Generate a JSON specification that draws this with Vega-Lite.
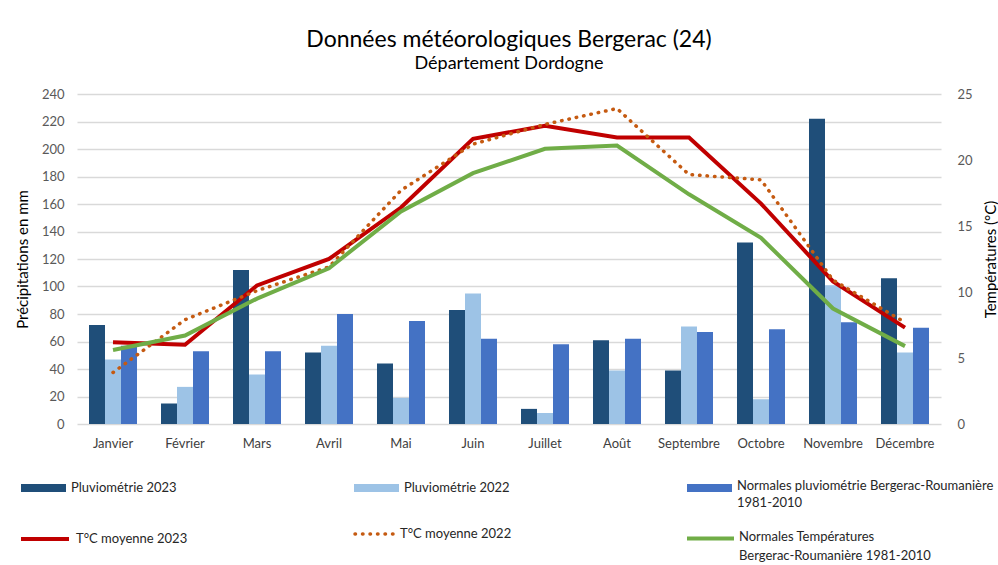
{
  "$schema": "https://vega.github.io/schema/vega-lite/v6.json",
  "width": 864,
  "height": 330,
  "autosize": {"type": "none"},
  "padding": {"left": 77, "top": 94, "right": 57, "bottom": 141},
  "background": "white",
  "config": {
    "font": "Lato",
    "view": {"stroke": null},
    "axis": {"labelFont": "Lato", "titleFont": "Lato", "labelFontSize": 13, "labelColor": "#595959", "titleFontWeight": "normal", "titleColor": "#000000", "titleFontSize": 15, "ticks": false, "domain": false},
    "legend": {"labelFont": "Lato", "labelFontSize": 13, "labelColor": "#262626", "title": null, "padding": 0, "labelLimit": 600, "labelOffset": 5}
  },
  "title": {
    "text": "Données météorologiques Bergerac (24)",
    "subtitle": "Département Dordogne",
    "font": "Lato",
    "fontSize": 23,
    "fontWeight": "normal",
    "color": "#000000",
    "subtitleFont": "Lato",
    "subtitleFontSize": 18,
    "subtitleColor": "#000000",
    "subtitlePadding": 3,
    "anchor": "middle",
    "offset": 15
  },
  "data": {
    "values": [
      {"mois": "Janvier", "pluie_2023": 72, "pluie_2022": 47, "pluie_normale": 57, "temp_2023": 6.2, "temp_2022": 3.9, "temp_normale": 5.6},
      {"mois": "Février", "pluie_2023": 15, "pluie_2022": 27, "pluie_normale": 53, "temp_2023": 6.0, "temp_2022": 7.9, "temp_normale": 6.7},
      {"mois": "Mars", "pluie_2023": 112, "pluie_2022": 36, "pluie_normale": 53, "temp_2023": 10.5, "temp_2022": 10.1, "temp_normale": 9.5},
      {"mois": "Avril", "pluie_2023": 52, "pluie_2022": 57, "pluie_normale": 80, "temp_2023": 12.5, "temp_2022": 11.9, "temp_normale": 11.8},
      {"mois": "Mai", "pluie_2023": 44, "pluie_2022": 19, "pluie_normale": 75, "temp_2023": 16.4, "temp_2022": 17.7, "temp_normale": 16.1},
      {"mois": "Juin", "pluie_2023": 83, "pluie_2022": 95, "pluie_normale": 62, "temp_2023": 21.6, "temp_2022": 21.2, "temp_normale": 19.0},
      {"mois": "Juillet", "pluie_2023": 11, "pluie_2022": 8, "pluie_normale": 58, "temp_2023": 22.6, "temp_2022": 22.7, "temp_normale": 20.85},
      {"mois": "Août", "pluie_2023": 61, "pluie_2022": 39, "pluie_normale": 62, "temp_2023": 21.7, "temp_2022": 23.9, "temp_normale": 21.1},
      {"mois": "Septembre", "pluie_2023": 39, "pluie_2022": 71, "pluie_normale": 67, "temp_2023": 21.7, "temp_2022": 18.9, "temp_normale": 17.4},
      {"mois": "Octobre", "pluie_2023": 132, "pluie_2022": 18, "pluie_normale": 69, "temp_2023": 16.7, "temp_2022": 18.5, "temp_normale": 14.1},
      {"mois": "Novembre", "pluie_2023": 222, "pluie_2022": 101, "pluie_normale": 74, "temp_2023": 10.8, "temp_2022": 10.9, "temp_normale": 8.75},
      {"mois": "Décembre", "pluie_2023": 106, "pluie_2022": 52, "pluie_normale": 70, "temp_2023": 7.3, "temp_2022": 7.7, "temp_normale": 5.9}
    ]
  },
  "layer": [
    {
      "layer": [
        {
          "mark": {"type": "bar"},
          "encoding": {
            "x": {"field": "mois", "type": "nominal", "sort": null, "scale": {"paddingInner": 0.3333, "paddingOuter": 0.1667}, "axis": {"title": null, "labelAngle": 0, "labelColor": "#404040", "labelPadding": 13, "labelFontSize": 13}},
            "xOffset": {"datum": "Pluviométrie 2023", "type": "nominal", "scale": {"domain": ["Pluviométrie 2023", "Pluviométrie 2022", "Normales pluviométrie Bergerac-Roumanière 1981-2010"]}},
            "y": {"field": "pluie_2023", "type": "quantitative", "scale": {"domain": [0, 240]}, "axis": {"title": "Précipitations en mm", "values": [0, 20, 40, 60, 80, 100, 120, 140, 160, 180, 200, 220, 240], "grid": true, "gridColor": "#d9d9d9", "gridWidth": 1.3, "labelPadding": 13, "titlePadding": 11}},
            "color": {"datum": "Pluviométrie 2023", "type": "nominal", "scale": {"domain": ["Pluviométrie 2023"], "range": ["#1F4E79"]}, "legend": {"orient": "none", "legendX": -56, "legendY": 371.5, "symbolType": "M-1,-0.18H1V0.18H-1Z", "symbolSize": 2025, "symbolStrokeWidth": 0}}
          }
        },
        {
          "mark": {"type": "bar"},
          "encoding": {
            "x": {"field": "mois", "type": "nominal", "sort": null},
            "xOffset": {"datum": "Pluviométrie 2022", "type": "nominal", "scale": {"domain": ["Pluviométrie 2023", "Pluviométrie 2022", "Normales pluviométrie Bergerac-Roumanière 1981-2010"]}},
            "y": {"field": "pluie_2022", "type": "quantitative", "scale": {"domain": [0, 240]}, "axis": {"title": "Précipitations en mm", "values": [0, 20, 40, 60, 80, 100, 120, 140, 160, 180, 200, 220, 240], "grid": true, "gridColor": "#d9d9d9", "gridWidth": 1.3, "labelPadding": 13, "titlePadding": 11}},
            "color": {"datum": "Pluviométrie 2022", "type": "nominal", "scale": {"domain": ["Pluviométrie 2022"], "range": ["#9DC3E6"]}, "legend": {"orient": "none", "legendX": 277, "legendY": 371.5, "symbolType": "M-1,-0.18H1V0.18H-1Z", "symbolSize": 2025, "symbolStrokeWidth": 0}}
          }
        },
        {
          "mark": {"type": "bar"},
          "encoding": {
            "x": {"field": "mois", "type": "nominal", "sort": null},
            "xOffset": {"datum": "Normales pluviométrie Bergerac-Roumanière 1981-2010", "type": "nominal", "scale": {"domain": ["Pluviométrie 2023", "Pluviométrie 2022", "Normales pluviométrie Bergerac-Roumanière 1981-2010"]}},
            "y": {"field": "pluie_normale", "type": "quantitative", "scale": {"domain": [0, 240]}, "axis": {"title": "Précipitations en mm", "values": [0, 20, 40, 60, 80, 100, 120, 140, 160, 180, 200, 220, 240], "grid": true, "gridColor": "#d9d9d9", "gridWidth": 1.3, "labelPadding": 13, "titlePadding": 11}},
            "color": {"datum": "Normales pluviométrie Bergerac-Roumanière 1981-2010", "type": "nominal", "scale": {"domain": ["Normales pluviométrie Bergerac-Roumanière 1981-2010"], "range": ["#4472C4"]}, "legend": {"orient": "none", "legendX": 610, "legendY": 371.5, "symbolType": "M-1,-0.18H1V0.18H-1Z", "symbolSize": 2025, "symbolStrokeWidth": 0, "labelExpr": "['Normales pluviométrie Bergerac-Roumanière', ' 1981-2010']", "labelBaseline": "top", "encode": {"labels": {"update": {"dy": {"value": -8}, "lineHeight": {"value": 17}}}}}}
          }
        }
      ],
      "resolve": {"scale": {"color": "independent"}}
    },
    {
      "layer": [
        {
          "mark": {"type": "line", "strokeWidth": 4},
          "encoding": {
            "x": {"field": "mois", "type": "nominal", "sort": null},
            "y": {"field": "temp_2023", "type": "quantitative", "scale": {"domain": [0, 25]}, "axis": {"orient": "right", "title": "Températures (°C)", "titleAngle": 270, "values": [0, 5, 10, 15, 20, 25], "grid": false, "labelPadding": 16, "titlePadding": 26}},
            "color": {"datum": "T°C moyenne 2023", "type": "nominal", "scale": {"domain": ["T°C moyenne 2023"], "range": ["#C00000"]}, "legend": {"orient": "none", "legendX": -58, "legendY": 419, "symbolType": "stroke", "symbolSize": 2304, "symbolStrokeWidth": 4}}
          }
        },
        {
          "mark": {"type": "line", "strokeWidth": 3.5, "strokeDash": [0.5, 7], "strokeCap": "round"},
          "encoding": {
            "x": {"field": "mois", "type": "nominal", "sort": null},
            "y": {"field": "temp_2022", "type": "quantitative", "scale": {"domain": [0, 25]}, "axis": {"orient": "right", "title": "Températures (°C)", "titleAngle": 270, "values": [0, 5, 10, 15, 20, 25], "grid": false, "labelPadding": 16, "titlePadding": 26}},
            "color": {"datum": "T°C moyenne 2022", "type": "nominal", "scale": {"domain": ["T°C moyenne 2022"], "range": ["#C55A11"]}, "legend": {"orient": "none", "legendX": 276, "legendY": 419, "symbolType": "stroke", "symbolSize": 1444, "symbolStrokeWidth": 3.5, "symbolDash": [0.5, 7], "encode": {"symbols": {"update": {"strokeCap": {"value": "round"}}}}}}
          }
        },
        {
          "mark": {"type": "line", "strokeWidth": 4},
          "encoding": {
            "x": {"field": "mois", "type": "nominal", "sort": null},
            "y": {"field": "temp_normale", "type": "quantitative", "scale": {"domain": [0, 25]}, "axis": {"orient": "right", "title": "Températures (°C)", "titleAngle": 270, "values": [0, 5, 10, 15, 20, 25], "grid": false, "labelPadding": 16, "titlePadding": 26}},
            "color": {"datum": "Normales Températures Bergerac-Roumanière 1981-2010", "type": "nominal", "scale": {"domain": ["Normales Températures Bergerac-Roumanière 1981-2010"], "range": ["#70AD47"]}, "legend": {"orient": "none", "legendX": 608, "legendY": 419, "symbolType": "stroke", "symbolSize": 2209, "symbolStrokeWidth": 4, "labelOffset": 3, "labelExpr": "['Normales Températures', 'Bergerac-Roumanière 1981-2010']", "labelBaseline": "top", "encode": {"labels": {"update": {"dy": {"value": -8}, "lineHeight": {"value": 19}}}}}}
          }
        }
      ],
      "resolve": {"scale": {"color": "independent"}}
    }
  ],
  "resolve": {"scale": {"y": "independent", "color": "independent"}}
}
